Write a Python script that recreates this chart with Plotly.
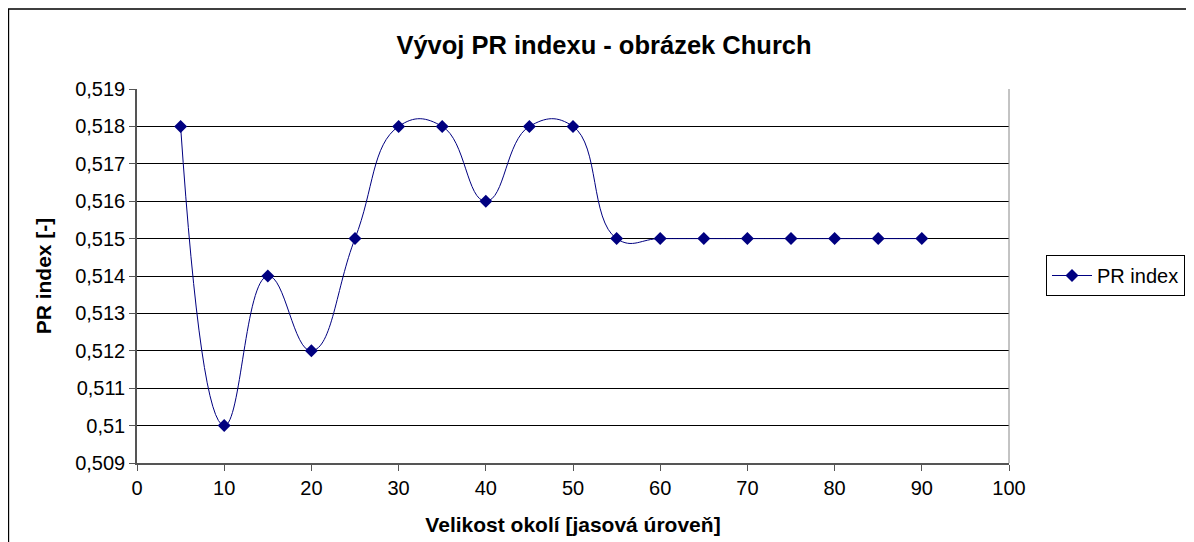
import plotly.graph_objects as go

x_vals = [5, 10, 15, 20, 25, 30, 35, 40, 45, 50, 55, 60, 65, 70, 75, 80, 85, 90]
pr_index = [0.518, 0.510, 0.514, 0.512, 0.515, 0.518, 0.518, 0.516, 0.518, 0.518,
            0.515, 0.515, 0.515, 0.515, 0.515, 0.515, 0.515, 0.515]
y_ticks = [0.509, 0.510, 0.511, 0.512, 0.513, 0.514, 0.515, 0.516, 0.517, 0.518, 0.519]
y_tick_labels = ["0,509", "0,51", "0,511", "0,512", "0,513", "0,514", "0,515",
                 "0,516", "0,517", "0,518", "0,519"]
x_ticks = [0, 10, 20, 30, 40, 50, 60, 70, 80, 90, 100]

navy = "#000080"
fig = go.Figure()
fig.add_trace(go.Scatter(
    x=x_vals, y=pr_index, mode="lines+markers", name="PR index",
    line=dict(color=navy, width=1, shape="spline", smoothing=1.3),
    marker=dict(symbol="diamond", size=10, color=navy),
))

L, R, T, B = 129, 193, 81, 87
PW, PH = 1194 - L - R, 542 - T - B

fig.update_layout(
    width=1194, height=542,
    margin=dict(l=L, r=R, t=T, b=B),
    paper_bgcolor="white", plot_bgcolor="white",
    font=dict(family="Arial, Liberation Sans, sans-serif", size=20, color="black"),
    separators=", ",
    title=dict(text="<b>Vývoj PR indexu - obrázek Church</b>", x=(604 - 8) / 1194, xanchor="center",
               xref="container", yref="container",
               y=1 - 37 / 542, yanchor="middle", font=dict(size=25.5)),
    showlegend=True,
    legend=dict(x=(1038 - L) / PW, xanchor="left", y=1 - (267.5 - T) / PH, yanchor="middle",
                bordercolor="black", borderwidth=1, bgcolor="white",
                font=dict(size=20), itemwidth=40, tracegroupgap=0),
    xaxis=dict(range=[0, 100], tickvals=x_ticks, showgrid=False,
               showline=True, linecolor="#555555", linewidth=1.5,
               ticks="outside", ticklen=6, tickcolor="#555555",
               mirror=False, zeroline=False,
               title=dict(text="<b>Velikost okolí [jasová úroveň]</b>", font=dict(size=21), standoff=20)),
    yaxis=dict(range=[0.509, 0.519], tickvals=y_ticks, ticktext=y_tick_labels,
               showgrid=True, gridcolor="black", gridwidth=1,
               showline=True, linecolor="#555555", linewidth=1.5,
               ticks="outside", ticklen=6, tickcolor="#555555", zeroline=False,
               title=dict(text="<b>PR index [-]</b>", font=dict(size=21), standoff=18)),
    shapes=[
        dict(type="line", xref="paper", yref="paper", x0=1, x1=1, y0=0, y1=1,
             line=dict(color="#888888", width=1)),
        dict(type="rect", xref="paper", yref="paper",
             x0=-L / PW + 0.0005, x1=1.3, y0=-0.3, y1=1 + (T - 1) / PH,
             line=dict(color="black", width=1.5), fillcolor="rgba(0,0,0,0)", layer="below"),
    ],
)

fig.write_html("out.html")
